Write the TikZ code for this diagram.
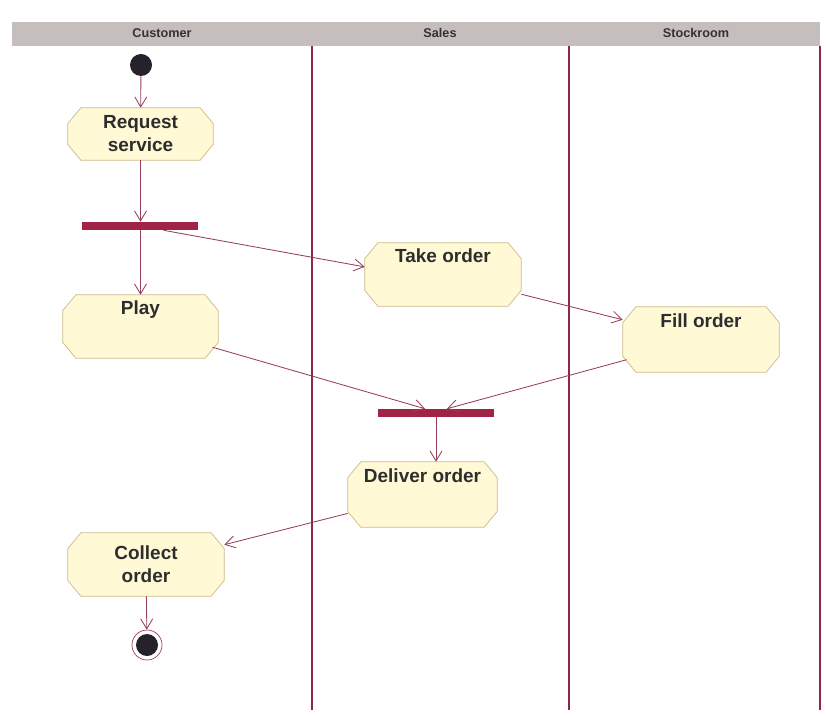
\documentclass[tikz,border=0pt]{standalone}
\usepackage{fontspec}
\setmainfont{Liberation Sans}
\usetikzlibrary{arrows.meta,backgrounds}

\definecolor{actfill}{RGB}{255,249,214}
\definecolor{actline}{RGB}{205,185,140}
\definecolor{acttext}{RGB}{45,45,45}
\definecolor{barcol}{RGB}{162,36,68}
\definecolor{flowcol}{RGB}{150,62,92}
\definecolor{lanecol}{RGB}{140,40,70}
\definecolor{headcol}{RGB}{198,190,188}
\definecolor{dotcol}{RGB}{38,34,44}

\begin{document}
\begin{tikzpicture}[x=0.025cm, y=-0.025cm,
    action/.style={rectangle, text=acttext, align=center,
      font=\fontsize{13.5}{16.3}\selectfont\bfseries, inner sep=0.12cm},
    oneline/.style={text depth=0.95cm},
    bar/.style={rectangle, fill=barcol, minimum width=2.9cm, minimum height=0.2cm, inner sep=0pt},
    startdot/.style={circle, fill=dotcol, minimum size=0.55cm, inner sep=0pt},
    endring/.style={circle, draw=flowcol, line width=0.5pt, minimum size=0.75cm, inner sep=0pt},
    flow/.style={draw=flowcol, line width=0.6pt, -{Straight Barb[length=0.25cm, width=0.3cm]}},
    lane/.style={draw=lanecol, line width=0.8pt},
    lanehead/.style={font=\fontsize{9}{10}\selectfont\bfseries, text=black!80}
    ]
    \useasboundingbox (0,0) rectangle (826,715);

    % swimlanes
    \fill[headcol] (12,22) rectangle (820,46);
    \node[lanehead] (customer) at (162,33) {Customer};
    \node[lanehead] (sales) at (440,33) {Sales};
    \node[lanehead] (stockroom) at (696,33) {Stockroom};
    \foreach \lx in {312,569,820}
      \draw[lane] (\lx,46) -- (\lx,710);

    % activities
    \node[startdot] (start) at (141,65) {};
    \node[action, minimum width=3.625cm, minimum height=1.3cm] (request) at (140.5,134) {Request\\service};
    \node[bar] (fork) at (140,226) {};
    \node[action, oneline, minimum width=3.9cm, minimum height=1.575cm] (take) at (443,274.5) {Take order};
    \node[action, oneline, minimum width=3.875cm, minimum height=1.575cm] (play) at (140.5,326.5) {Play};
    \node[action, oneline, minimum width=3.9cm, minimum height=1.625cm] (fill) at (701,339.5) {Fill order};
    \node[bar] (join) at (436,413) {};
    \node[action, oneline, minimum width=3.725cm, minimum height=1.625cm] (deliver) at (422.5,494.5) {Deliver order};
    \node[action, minimum width=3.9cm, minimum height=1.575cm] (collect) at (146,564.5) {Collect\\order};
    \node[endring] (end) at (147,645) {};
    \node[startdot] (enddot) at (end) {};

    % chamfered outlines behind the activities
    \begin{scope}[on background layer]
      \foreach \act in {request,take,play,fill,deliver,collect}
        \filldraw[draw=actline, fill=actfill, line width=0.5pt]
          ([xshift=0.33cm]\act.north west) -- ([xshift=-0.33cm]\act.north east)
          -- ([yshift=-0.4cm]\act.north east) -- ([yshift=0.4cm]\act.south east)
          -- ([xshift=-0.33cm]\act.south east) -- ([xshift=0.33cm]\act.south west)
          -- ([yshift=0.4cm]\act.south west) -- ([yshift=-0.4cm]\act.north west) -- cycle;
    \end{scope}

    % flows
    \draw[flow] (start) -- (request);
    \draw[flow] (request) -- (request |- fork.north);
    \draw[flow] (request |- fork.south) -- (play);
    \draw[flow] (fork) -- ([yshift=0.19cm]take.west);
    \draw[flow] (take) -- (fill);
    \draw[flow, shorten <=-0.15cm] (play) -- ([xshift=-0.275cm]join.north);
    \draw[flow, shorten <=-0.1cm] (fill) -- ([xshift=0.275cm]join.north);
    \draw[flow] (join) -- (join |- deliver.north);
    \draw[flow] (deliver) -- (collect);
    \draw[flow] (collect) -- (end);
\end{tikzpicture}
\end{document}
